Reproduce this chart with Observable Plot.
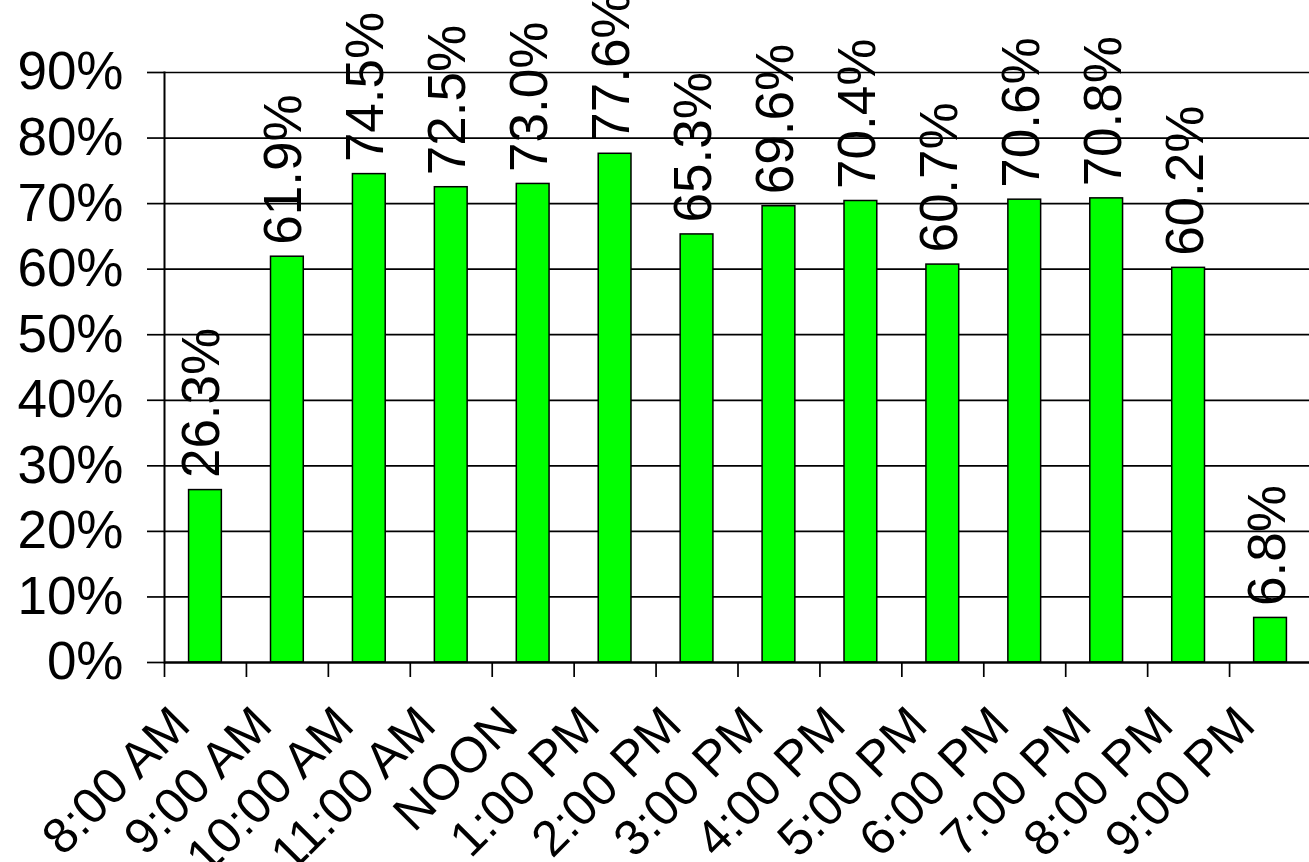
<!DOCTYPE html>
<html>
<head>
<meta charset="utf-8">
<script src="https://cdn.jsdelivr.net/npm/d3@7"></script>
<script src="https://cdn.jsdelivr.net/npm/@observablehq/plot@0.6"></script>
<style>
  html, body { margin: 0; padding: 0; background: #fff; overflow: hidden; }
  svg { display: block; font-family: "Liberation Sans", Arial, sans-serif; }
</style>
</head>
<body>
<div id="chart"></div>
<script>
const categories = ["8:00 AM", "9:00 AM", "10:00 AM", "11:00 AM", "NOON", "1:00 PM", "2:00 PM", "3:00 PM", "4:00 PM", "5:00 PM", "6:00 PM", "7:00 PM", "8:00 PM", "9:00 PM"];
const values = [26.3, 61.9, 74.5, 72.5, 73.0, 77.6, 65.3, 69.6, 70.4, 60.7, 70.6, 70.8, 60.2, 6.8];
const yTicks = [0, 10, 20, 30, 40, 50, 60, 70, 80, 90];

const data = categories.map((c, i) => ({cat: c, value: values[i]}));

const W = 1309, H = 862, mL = 164, mR = -2, mT = 72, mB = 200;
const step = (W - mL - mR) / categories.length;
const font = "Liberation Sans, Arial, sans-serif";

const chart = Plot.plot({
  width: W,
  height: H,
  marginLeft: mL,
  marginRight: mR,
  marginTop: mT,
  marginBottom: mB,
  style: {background: "#fff", fontFamily: font},
  x: {domain: categories, paddingInner: 0.6, paddingOuter: 0.3, round: false, axis: null},
  y: {domain: [0, 90], axis: null},
  marks: [
    Plot.ruleY(yTicks.filter(d => d > 0), {y: d => d, stroke: "#000", strokeWidth: 1.7}),
    Plot.axisY(yTicks, {
      tickSize: 17, tickPadding: 24, tickFormat: d => d + "%",
      fontSize: 53, stroke: "#000", strokeWidth: 1.7, color: "#000", fill: "#000", label: null
    }),
    Plot.barY(data, {x: "cat", y: "value", fill: "#00ff00", stroke: "#000", strokeWidth: 1.5}),
    Plot.frame({anchor: "left", stroke: "#000", strokeWidth: 2}),
    Plot.ruleY([0], {stroke: "#000", strokeWidth: 2.6}),
    Plot.ruleX(categories, {x: d => d, y1: 0, y2: 0, insetBottom: -15, dx: -step / 2, stroke: "#000", strokeWidth: 1.7}),
    Plot.text(data, {
      x: "cat", y: "value", text: d => d.value.toFixed(1) + "%",
      rotate: -90, textAnchor: "start", lineAnchor: "bottom",
      dx: 14, dy: -12, fontSize: 53, fill: "#000"
    }),
    Plot.text(categories, {
      x: d => d, frameAnchor: "bottom", text: d => d,
      rotate: -45, textAnchor: "end", lineAnchor: "bottom",
      dx: -13, dy: 65, fontSize: 50, fill: "#000"
    })
  ]
});
document.getElementById("chart").appendChild(chart);
</script>
</body>
</html>
